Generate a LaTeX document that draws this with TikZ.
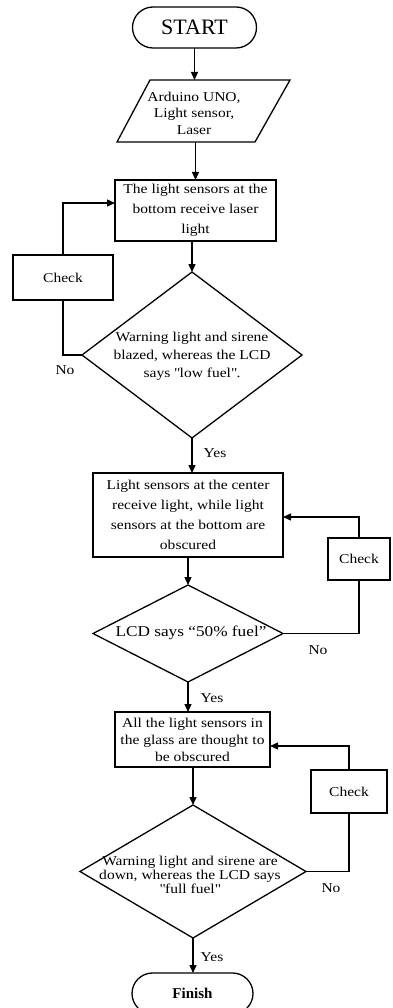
\documentclass[tikz,border=0pt]{standalone}
\usepackage{fontspec}
\setmainfont{Liberation Serif}[FakeStretch=1.15]
\newfontfamily\plainserif{Liberation Serif}
\usetikzlibrary{arrows.meta,shapes.geometric,shapes.misc}

\begin{document}
\begin{tikzpicture}[x=1pt,y=-1pt,>={Triangle[length=8pt,width=7pt]},line width=1.3pt,
  every node/.style={inner sep=0pt,outer sep=0pt,font=\fontsize{13.5}{20}\selectfont},
  proc/.style={draw,rectangle,align=center},
  term/.style={draw,rounded rectangle,minimum width=124,minimum height=41},
  dec/.style={draw,diamond},
  txt/.style={align=center}]
  \useasboundingbox (0,0) rectangle (393,1008);
  \node[term,font=\plainserif\fontsize{22}{24}\selectfont] (start) at (194.5,27.5) {START};
  \draw (150,80) coordinate (inTL) -- (290,80) -- (255,142) -- (117,142) coordinate (inBL) -- cycle;
  \node[txt,font=\fontsize{13.5}{16.5}\selectfont] (in) at (194,113) {Arduino UNO,\\Light sensor,\\Laser};
  \node[proc,minimum width=161,minimum height=61] (box1) at (195.5,210.5) {The light sensors at the\\bottom receive laser\\light};
  \node[dec,minimum width=220,minimum height=166] (d1) at (192,355) {};
  \node[txt,font=\fontsize{13.5}{18}\selectfont] (d1txt) at (192,356) {Warning light and sirene\\blazed, whereas the LCD\\says \textquotedbl low fuel\textquotedbl.};
  \node[proc,minimum width=100,minimum height=45] (chk1) at (63,277.5) {Check};
  \node[proc,minimum width=190,minimum height=84] (box2) at (188,515) {Light sensors at the center\\receive light, while light\\sensors at the bottom are\\obscured};
  \node[dec,minimum width=190,minimum height=97] (d2) at (188,633.5) {};
  \node[txt,font=\fontsize{15}{16}\selectfont] (d2txt) at (191,633) {LCD says “50\% fuel”};
  \node[proc,minimum width=62,minimum height=42] (chk2) at (359,559) {Check};
  \node[proc,minimum width=155,minimum height=55,font=\fontsize{13.5}{17}\selectfont] (box3) at (192.5,739.5) {All the light sensors in\\the glass are thought to\\be obscured};
  \node[dec,minimum width=226,minimum height=133] (d3) at (193,871.5) {};
  \node[txt,font=\fontsize{13.5}{14}\selectfont] (d3txt) at (190,875) {Warning light and sirene are\\down, whereas the LCD says\\\textquotedbl full fuel\textquotedbl};
  \node[proc,minimum width=76,minimum height=43] (chk3) at (349,791.5) {Check};
  \node[term,minimum width=121,font=\plainserif\bfseries\fontsize{15}{17}\selectfont] (fin) at (192.5,993.5) {Finish};
  \node (no1) at (65,370) {No};
  \node (yes1) at (215,453) {Yes};
  \node (no2) at (318,650) {No};
  \node (yes2) at (212,698) {Yes};
  \node (no3) at (331,888) {No};
  \node (yes3) at (212,957) {Yes};
  \draw[->] (start.south) -- (start.south |- inTL);
  \draw[->] (box1.north |- inBL) -- (box1.north);
  \draw[->] (box1.south -| d1) -- (d1.north);
  \draw[->] (d1.south) -- (d1.south |- box2.north);
  \draw[->] (box2.south -| d2) -- (d2.north);
  \draw[->] (d2.south) -- (d2.south |- box3.north);
  \draw[->] (box3.south -| d3) -- (d3.north);
  \draw[->] (d3.south) -- (d3.south |- fin.north);
  \draw (d1.west) -| (chk1.south);
  \draw[->] (chk1.north) |- ([yshift=7.5pt]box1.west);
  \draw (d2.east) -| (chk2.south);
  \draw[->] (chk2.north) |- ([yshift=-2pt]box2.east);
  \draw (d3.east) -| (chk3.south);
  \draw[->] (chk3.north) |- ([yshift=-6.5pt]box3.east);
\end{tikzpicture}
\end{document}
